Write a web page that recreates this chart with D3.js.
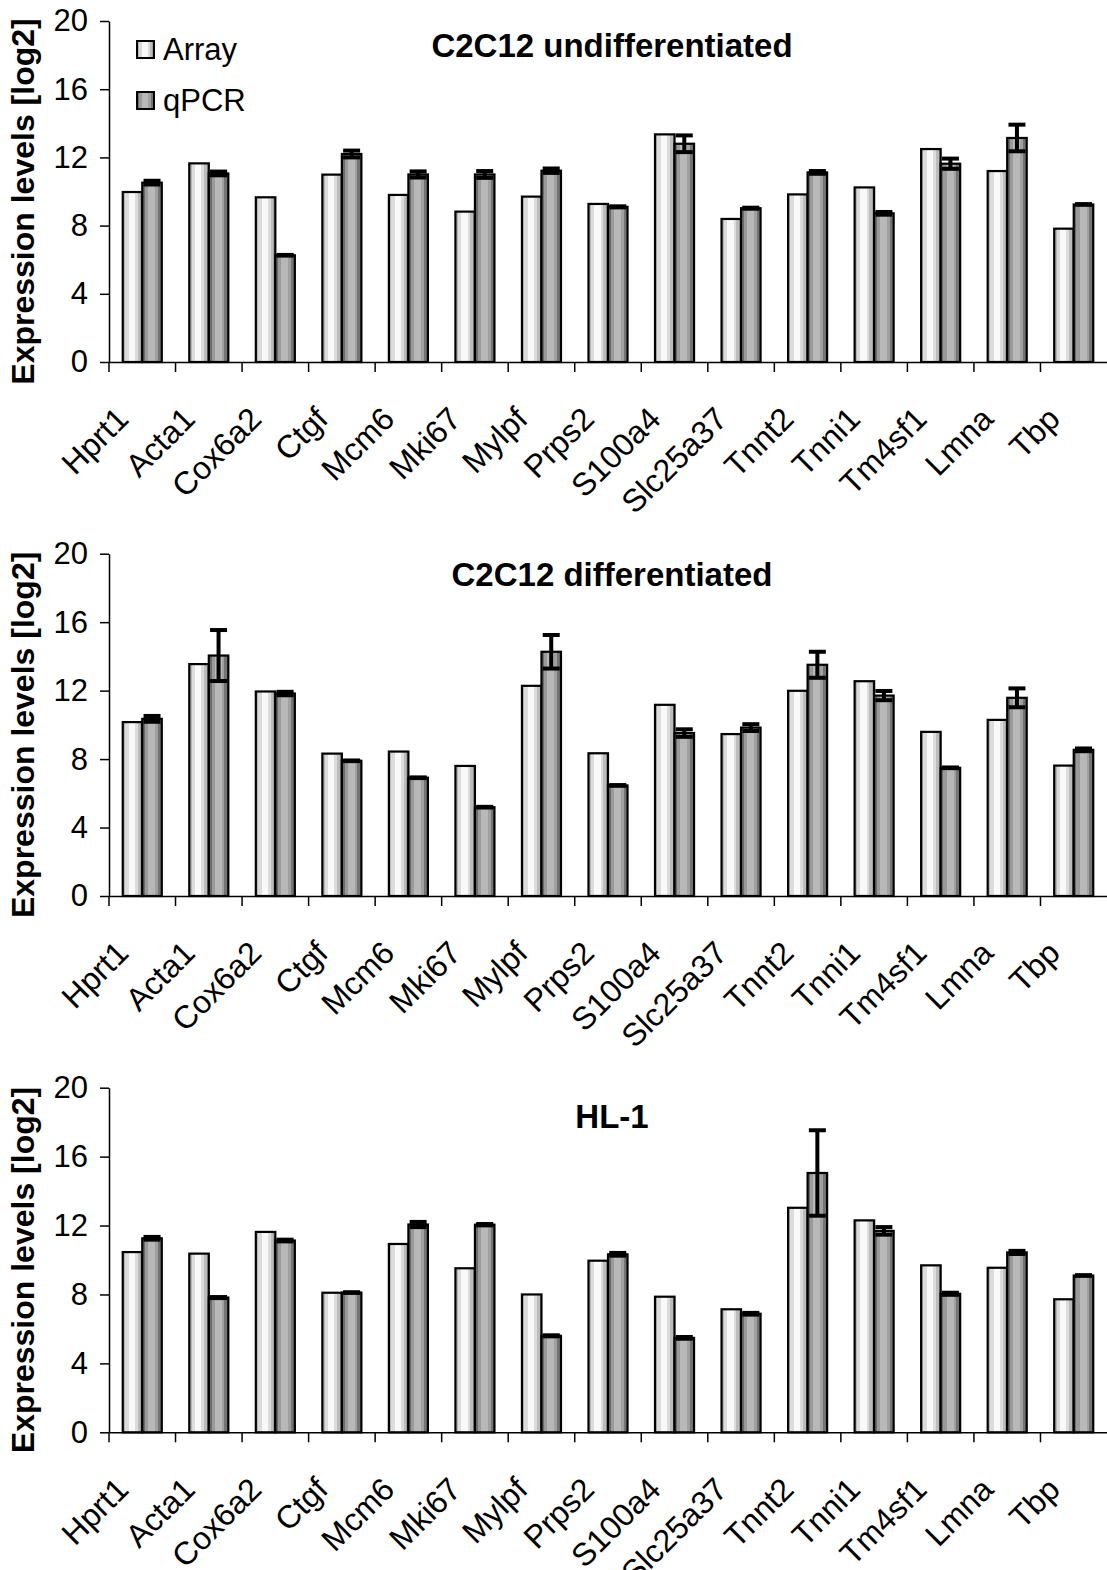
<!DOCTYPE html>
<html>
<head>
<meta charset="utf-8">
<script src="https://cdn.jsdelivr.net/npm/d3@7"></script>
<style>
  body { margin: 0; background: #fff; }
  svg { display: block; font-family: "Liberation Sans", Arial, sans-serif; }
</style>
</head>
<body>
<div id="chart"></div>
<script>
// genes on the x axis (same for all three panels)
const genes = ["Hprt1", "Acta1", "Cox6a2", "Ctgf", "Mcm6", "Mki67", "Mylpf", "Prps2",
  "S100a4", "Slc25a37", "Tnnt2", "Tnni1", "Tm4sf1", "Lmna", "Tbp"];
const seriesNames = ["Array", "qPCR"];
const yTicks = [0, 4, 8, 12, 16, 20];
const panelTitles = ["C2C12 undifferentiated", "C2C12 differentiated", "HL-1"];

// C2C12 undifferentiated
const undiffArray = [9.97, 11.65, 9.66, 10.99, 9.8, 8.82, 9.7, 9.27, 13.35, 8.39, 9.83, 10.24, 12.49, 11.2, 7.82];
const undiffQpcr = [10.52, 11.06, 6.26, 12.2, 11.0, 11.0, 11.22, 9.1, 12.8, 9.02, 11.12, 8.72, 11.63, 13.14, 9.24];
const undiffErr = [0.11, 0.11, 0.02, 0.2, 0.18, 0.2, 0.13, 0.03, 0.49, 0.03, 0.08, 0.08, 0.3, 0.78, 0.02];

// C2C12 differentiated
const diffArray = [10.16, 13.55, 11.95, 8.32, 8.44, 7.6, 12.28, 8.34, 11.17, 9.46, 11.99, 12.55, 9.59, 10.29, 7.62];
const diffQpcr = [10.35, 14.05, 11.83, 7.9, 6.91, 5.19, 14.27, 6.46, 9.52, 9.84, 13.51, 11.71, 7.49, 11.58, 8.54];
const diffErr = [0.17, 1.49, 0.1, 0.02, 0.02, 0.02, 0.98, 0.02, 0.22, 0.2, 0.76, 0.27, 0.02, 0.55, 0.08];

// HL-1
const hl1Array = [10.46, 10.37, 11.63, 8.1, 10.93, 9.52, 8.0, 9.96, 7.87, 7.14, 13.03, 12.3, 9.69, 9.55, 7.72];
const hl1Qpcr = [11.26, 7.82, 11.13, 8.11, 12.06, 12.05, 5.6, 10.33, 5.48, 6.88, 15.05, 11.69, 8.04, 10.44, 9.1];
const hl1Err = [0.08, 0.03, 0.05, 0.02, 0.15, 0.04, 0.03, 0.08, 0.05, 0.05, 2.48, 0.22, 0.06, 0.09, 0.02];

const W = 1107, H = 1570;
const left = 109, right = 1107;

const panels = [
  { title: panelTitles[0], arr: undiffArray, q: undiffQpcr, err: undiffErr, top: 21, bottom: 362, titleY: 57, legend: true },
  { title: panelTitles[1], arr: diffArray, q: diffQpcr, err: diffErr, top: 553.7, bottom: 896, titleY: 586 },
  { title: panelTitles[2], arr: hl1Array, q: hl1Qpcr, err: hl1Err, top: 1087.7, bottom: 1432.3, titleY: 1128 }
];

const svg = d3.select("#chart").append("svg")
  .attr("width", W)
  .attr("height", H);

// banded "cylinder" fills like the old Excel gradient
const defs = svg.append("defs");
function bandGradient(id, bands) {
  const g = defs.append("linearGradient").attr("id", id)
    .attr("x1", 0).attr("x2", 1).attr("y1", 0).attr("y2", 0);
  bands.forEach(b => {
    g.append("stop").attr("offset", b[0]).attr("stop-color", b[2]);
    g.append("stop").attr("offset", b[1]).attr("stop-color", b[2]);
  });
}
bandGradient("fill-Array", [[0, 0.12, "#b6b6b6"], [0.12, 0.3, "#dcdcdc"], [0.3, 0.62, "#f9f9f9"], [0.62, 0.76, "#dcdcdc"], [0.76, 0.9, "#bcbcbc"], [0.9, 1, "#a0a0a0"]]);
bandGradient("fill-qPCR", [[0, 0.14, "#6c6c6c"], [0.14, 0.3, "#9a9a9a"], [0.3, 0.66, "#b8b8b8"], [0.66, 0.8, "#a0a0a0"], [0.8, 1, "#747474"]]);

const x0 = d3.scaleBand().domain(genes).range([left, right]);
const step = x0.bandwidth();
const x1 = d3.scaleBand().domain(seriesNames).range([13.75, step - 13.75]);
const bw = x1.bandwidth();

panels.forEach(p => {
  const y = d3.scaleLinear().domain([0, 20]).range([p.bottom, p.top]);
  const g = svg.append("g");

  // y axis
  const yAxis = g.append("g")
    .attr("transform", `translate(${left},0)`)
    .call(d3.axisLeft(y).tickValues(yTicks).tickFormat(d3.format("d")).tickSize(9).tickSizeOuter(0).tickPadding(12));
  yAxis.select(".domain").attr("stroke", "#000").attr("stroke-width", 1.5);
  yAxis.selectAll(".tick line").attr("stroke", "#000").attr("stroke-width", 1.5);
  yAxis.selectAll("text").attr("font-size", 31).attr("fill", "#000")
    .attr("font-family", "'Liberation Sans', Arial, sans-serif");

  // y title
  g.append("text")
    .attr("transform", `translate(34,${(p.top + p.bottom) / 2 + 10}) rotate(-90)`)
    .attr("text-anchor", "middle")
    .attr("font-size", 32)
    .attr("font-weight", "bold")
    .text("Expression levels [log2]");

  // bars
  const groups = g.append("g").selectAll("g")
    .data(genes.map((gene, i) => ({ gene, vals: [p.arr[i], p.q[i]], err: p.err[i] })))
    .join("g")
    .attr("transform", d => `translate(${x0(d.gene)},0)`);

  groups.selectAll("rect")
    .data(d => seriesNames.map((s, k) => ({ s, v: d.vals[k] })))
    .join("rect")
    .attr("x", d => x1(d.s))
    .attr("y", d => y(d.v))
    .attr("width", bw)
    .attr("height", d => y(0) - y(d.v))
    .attr("fill", d => `url(#fill-${d.s})`)
    .attr("stroke", "#000")
    .attr("stroke-width", 2.2);

  // error bars on qPCR
  const eb = groups.append("g")
    .attr("stroke", "#000")
    .attr("stroke-width", 4);
  const cx = x1("qPCR") + bw / 2;
  eb.append("line")
    .attr("x1", cx).attr("x2", cx)
    .attr("y1", d => y(d.vals[1] - d.err))
    .attr("y2", d => y(d.vals[1] + d.err));
  eb.append("line")
    .attr("x1", cx - 8.5).attr("x2", cx + 8.5)
    .attr("y1", d => y(d.vals[1] + d.err))
    .attr("y2", d => y(d.vals[1] + d.err));
  eb.append("line")
    .attr("x1", cx - 8.5).attr("x2", cx + 8.5)
    .attr("y1", d => y(d.vals[1] - d.err))
    .attr("y2", d => y(d.vals[1] - d.err));

  // x axis: line, boundary ticks, rotated labels
  const xAxis = g.append("g")
    .attr("transform", `translate(0,${p.bottom})`)
    .call(d3.axisBottom(x0).tickSize(0).tickSizeOuter(0));
  xAxis.select(".domain").attr("stroke", "#000").attr("stroke-width", 1.5);
  xAxis.selectAll("text")
    .attr("x", 0).attr("y", 0).attr("dy", 0)
    .attr("transform", "translate(-12,59) rotate(-45)")
    .attr("text-anchor", "end")
    .attr("font-size", 32)
    .attr("fill", "#000")
    .attr("font-family", "'Liberation Sans', Arial, sans-serif");
  xAxis.append("g").selectAll("line")
    .data(genes)
    .join("line")
    .attr("x1", d => x0(d)).attr("x2", d => x0(d))
    .attr("y1", 0).attr("y2", 10)
    .attr("stroke", "#000").attr("stroke-width", 1.5);

  // panel title
  g.append("text")
    .attr("x", 612)
    .attr("y", p.titleY)
    .attr("text-anchor", "middle")
    .attr("font-size", 33)
    .attr("font-weight", "bold")
    .text(p.title);

  if (p.legend) {
    const lg = g.append("g").selectAll("g")
      .data(seriesNames)
      .join("g")
      .attr("transform", (d, i) => `translate(137,${41 + i * 51})`);
    lg.append("rect")
      .attr("width", 17).attr("height", 17)
      .attr("fill", d => `url(#fill-${d})`)
      .attr("stroke", "#000").attr("stroke-width", 2);
    lg.append("text")
      .attr("x", 26).attr("y", 19)
      .attr("font-size", 31)
      .text(d => d);
  }
});
</script>
</body>
</html>
